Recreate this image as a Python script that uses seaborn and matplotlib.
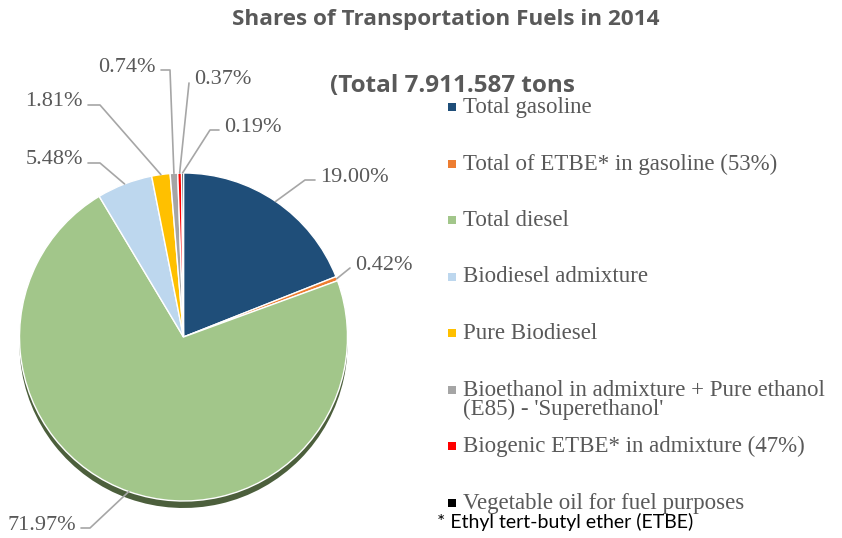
import numpy as np
import seaborn as sns
import matplotlib.pyplot as plt
from matplotlib.patches import Rectangle

# data
fuels = ["Total gasoline", "Total of ETBE* in gasoline (53%)", "Total diesel",
         "Biodiesel admixture", "Pure Biodiesel",
         "Bioethanol in admixture + Pure ethanol\n(E85) - 'Superethanol'",
         "Biogenic ETBE* in admixture (47%)", "Vegetable oil for fuel purposes"]
shares = [19.00, 0.42, 71.97, 5.48, 1.81, 0.74, 0.37, 0.19]
pct_labels = ["19.00%", "0.42%", "71.97%", "5.48%", "1.81%", "0.74%", "0.37%", "0.19%"]
colors = ["#1F4E79", "#ED7D31", "#A2C68A", "#BDD7EE", "#FFC000", "#A5A5A5", "#FF0000", "#000000"]
shadow_colors = ["#13304B", "#8A4A1D", "#4C5F3C", "#6F7F8D", "#8F6C00", "#5F5F5F", "#8F0000", "#000000"]

# label layout in pixels (text x, text y, alignment, elbow x)
label_pos = [(320, 177, "left", 305), (355, 265, "left", 350), (76, 525, "right", 90),
             (83, 160, "right", 100), (83, 102, "right", 100), (156, 67, "right", 170),
             (194, 80, "left", 189), (224, 127, "left", 210)]

W, H = 842, 538
cx, cy, R = 183.5, 337, 164

sns.set_theme(style="white")
plt.rcParams['font.family'] = ['Liberation Serif', 'DejaVu Sans']

fig = plt.figure(figsize=(8.42, 5.38), dpi=100)
ax = fig.add_axes([0, 0, 1, 1])

# shadow under the pie (3D look)
ax.pie(shares, colors=shadow_colors, startangle=90, counterclock=False,
       radius=R, center=(cx, H - cy - 7), wedgeprops=dict(linewidth=0))
wedges, _ = ax.pie(shares, colors=colors, startangle=90, counterclock=False,
                   radius=R, center=(cx, H - cy),
                   wedgeprops=dict(edgecolor="white", linewidth=1.0))
ax.set_xlim(0, W)
ax.set_ylim(0, H)
ax.set_aspect("auto")
ax.axis("off")

gray = "#595959"
line_c = "#A6A6A6"

# leader lines and percentage labels
for w, lab, (tx, ty, ha, ex) in zip(wedges, pct_labels, label_pos):
    ang = np.deg2rad((w.theta1 + w.theta2) / 2)
    px = cx + R * np.cos(ang)
    py = H - cy + R * np.sin(ang)
    yl = H - ty - 3
    end = tx - 5 if ha == "left" else tx + 5
    ax.plot([px, ex, end], [py, yl, yl], color=line_c, lw=1.2, zorder=1)
    ax.text(tx, H - ty, lab, ha=ha, va="center", fontsize=16, color=gray)

# legend drawn Excel style
for i, (name, c) in enumerate(zip(fuels, colors)):
    y = 107 + i * 56.5
    ax.add_patch(Rectangle((448, H - y - 4), 8, 8, color=c, lw=0))
    ax.text(463, H - y + 10, name, ha="left", va="top", fontsize=16.5,
            color=gray, linespacing=0.9)

fig.text(446 / W, 1 - 20 / H, "Shares of Transportation Fuels in 2014",
         ha="center", va="center", fontsize=16.2, fontweight="bold",
         color=gray, family=["Open Sans", "DejaVu Sans"])
fig.text(330 / W, 1 - 86 / H, "(Total 7.911.587 tons", ha="left", va="center",
         fontsize=17.5, fontweight="bold", color=gray, family=["Open Sans", "DejaVu Sans"])
fig.text(437 / W, 1 - 522 / H, "* Ethyl tert-butyl ether (ETBE)", ha="left",
         va="center", fontsize=14, color="black", family=["Lato", "DejaVu Sans"])

plt.savefig("out.png", dpi=100)
plt.close()
